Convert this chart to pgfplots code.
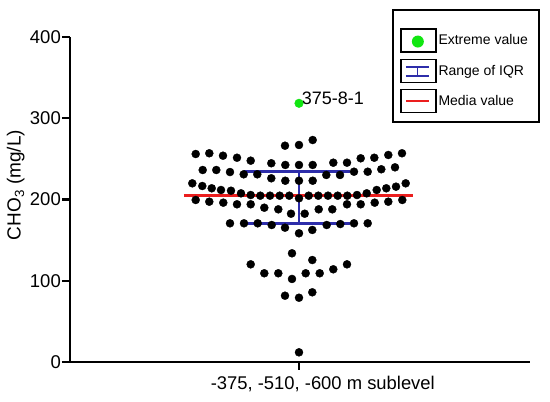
\documentclass[border=0pt]{standalone}
\usepackage{pgfplots}
\pgfplotsset{compat=1.18}
\usepackage{pgfplotstable}
\usepackage{fontspec}
\setmainfont{Liberation Sans}
\definecolor{extgreen}{RGB}{17,230,17}
\definecolor{iqrblue}{RGB}{45,45,170}
\definecolor{medred}{RGB}{235,30,30}
\pgfplotstableread{
x y
-14.0 266.2
0.0 267.1
13.7 273.2
-103.3 256.0
-89.7 256.9
-76.0 253.9
-62.0 251.4
-48.3 247.8
-27.7 244.6
-13.7 242.5
0.0 242.5
13.7 242.5
34.3 245.3
48.0 245.3
61.7 250.7
75.3 251.4
89.3 254.8
103.0 256.9
-96.3 236.3
-82.7 236.3
-69.0 233.8
-55.3 231.0
-41.7 231.0
-27.7 226.1
-13.7 223.1
0.0 223.1
13.7 223.1
27.3 230.2
41.0 230.2
55.0 234.2
68.7 234.2
82.3 237.2
96.0 239.6
-106.7 219.9
-96.7 216.6
-87.3 213.8
-78.0 211.7
-68.0 210.8
-58.0 207.6
-48.3 205.5
-38.7 204.7
-29.0 204.7
-19.3 204.7
-9.7 204.7
0.0 201.5
9.7 204.7
19.3 204.7
29.0 204.7
38.7 204.7
48.3 204.7
58.0 205.5
67.7 207.6
77.7 211.7
87.3 213.8
97.0 215.8
106.7 219.9
-103.3 199.4
-89.7 197.3
-75.7 196.1
-62.0 194.1
-48.3 194.1
-34.7 189.9
-20.7 187.9
-8.0 182.5
5.7 182.5
19.7 187.9
33.3 187.9
48.0 194.1
61.7 194.1
75.7 196.1
89.3 197.3
103.3 199.4
-69.0 170.7
-55.0 170.7
-41.3 170.7
-27.3 168.6
-14.0 165.3
0.0 158.4
13.3 162.5
27.7 168.6
41.3 169.8
55.0 170.7
68.7 170.7
-7.0 133.8
13.3 125.5
-48.3 120.2
48.0 120.2
-34.7 109.2
-20.7 109.2
-7.0 102.2
6.7 109.2
20.7 109.2
34.3 114.1
-14.0 81.6
0.0 79.1
13.3 85.8
0.0 11.9
}\dots
\begin{document}
\begin{tikzpicture}[x=1pt,y=1pt]
\path[use as bounding box] (0,0) rectangle (550,402);
\begin{axis}[
  at={(70pt,40pt)}, anchor=south west,
  scale only axis, width=460pt, height=325pt,
  xmin=-229, xmax=231, ymin=0, ymax=400,
  axis x line*=bottom, axis y line*=left,
  axis line style={line width=2.3pt},
  xtick={0}, xticklabels={},
  ytick={0,100,200,300,400},
  tick align=outside, major tick length=8pt,
  tick style={line width=2.3pt, black},
  /pgf/number format/assume math mode=true,
  yticklabel style={font=\fontsize{18.5}{20}\selectfont, inner sep=1pt},
  ylabel={CHO\textsubscript{3} (mg/L)},
  ylabel style={at={(axis description cs:-0.1178,0.5446)}, anchor=center, font=\fontsize{19}{21}\selectfont},
  clip=false,
  legend cell align=left,
  legend style={at={(0.7174,1.0268)}, anchor=north west, draw=none, fill=none,
    inner xsep=0pt, inner ysep=0pt, row sep=6pt,
    font=\fontsize{14}{16}\selectfont,
    /tikz/every even column/.append style={column sep=7.5pt}},
]
\addlegendimage{legend image code/.code={\draw[line width=1.3pt, draw=black] (0pt,-11.5pt) rectangle (35pt,11.5pt); \fill[extgreen, draw=none] (17pt,-0.9pt) circle (6pt);}}
\addlegendentry{Extreme value}
\addlegendimage{legend image code/.code={\draw[line width=1.3pt, draw=black] (0pt,-11.5pt) rectangle (35pt,11.5pt); \draw[color=iqrblue, draw=iqrblue, line width=1.6pt] (5pt,4pt) -- (28pt,4pt) (16.7pt,4pt) -- (16.7pt,-5.3pt) (5pt,-5.3pt) -- (28pt,-5.3pt);}}
\addlegendentry{Range of IQR}
\addlegendimage{legend image code/.code={\draw[line width=1.3pt, draw=black] (0pt,-11.5pt) rectangle (35pt,11.5pt); \draw[color=medred, draw=medred, line width=1.6pt] (5pt,0pt) -- (28pt,0pt);}}
\addlegendentry{Media value}
% IQR
\addplot[forget plot, iqrblue, line width=2.5pt] coordinates {(-55,234.2) (51,234.2)};
\addplot[forget plot, iqrblue, line width=2.5pt] coordinates {(0,234.2) (0,170.7)};
\addplot[forget plot, iqrblue, line width=2.5pt] coordinates {(-55,170.7) (51,170.7)};
% median
\addplot[forget plot, medred, line width=2.6pt] coordinates {(-115,204.7) (114,204.7)};
% data
\addplot[forget plot, only marks, mark=*, mark size=4.0pt, black] table {\dots};
\addplot[forget plot, only marks, mark=*, mark size=4.3pt, extgreen, mark options={draw=extgreen, fill=extgreen}] coordinates {(0,318.4)};
\node[anchor=base west, inner sep=0pt, font=\fontsize{18}{20}\selectfont] at (axis cs:2.7,317.5) {375-8-1};
\node[anchor=base, inner sep=0pt, yshift=-27.5pt, font=\fontsize{18.4}{20}\selectfont] at (axis cs:23.8,0) {-375, -510, -600 m sublevel};
\draw[line width=2.3pt] (axis cs:-237,0) -- (axis cs:-229,0);
\end{axis}
\draw[line width=2pt] (393.3,280.3) rectangle (539.3,392);
\end{tikzpicture}
\end{document}
